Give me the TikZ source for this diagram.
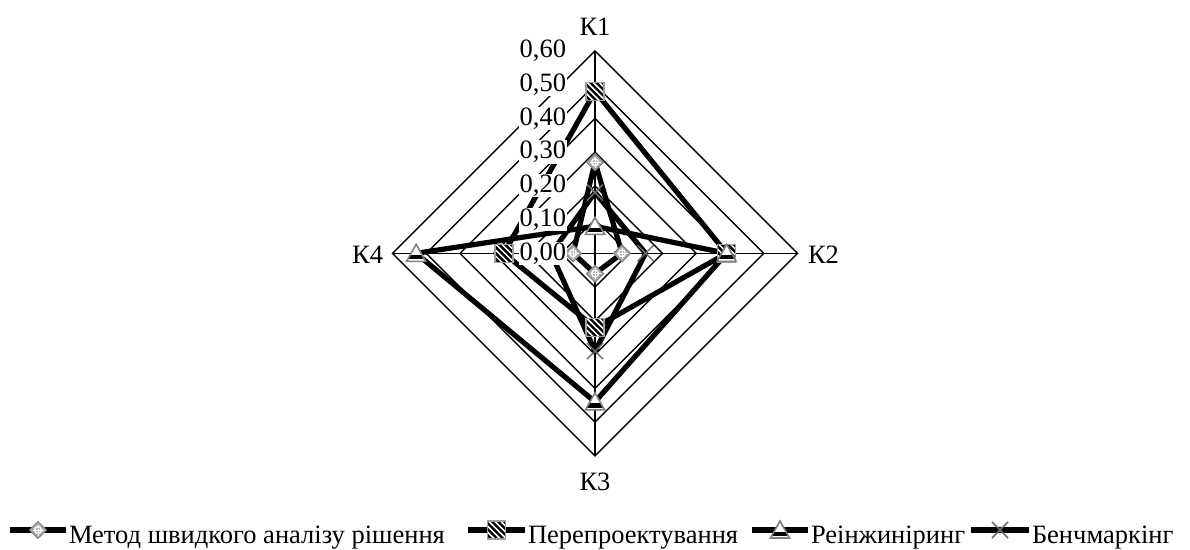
\documentclass[tikz,border=0pt]{standalone}
\usepackage{fontspec}
\setmainfont{Liberation Serif}
\begin{document}
\begin{tikzpicture}[x=1pt,y=-1pt,
  grid/.style={line width=1.4pt, black},
  ser/.style={line width=5.2pt, black, line join=round},
  lbl/.style={font=\fontsize{26.5}{28}\selectfont, inner sep=0.8pt},
  tick/.style={lbl, anchor=east, fill=white},
  pdia/.pic={
    \filldraw[draw=gray, fill=gray!65, line width=1pt] (0,-8.5)--(8.5,0)--(0,8.5)--(-8.5,0)--cycle;
    \draw[white, line width=1.3pt] (0,0) circle (3.4pt);
    \draw[white, line width=1pt] (-5.5,0)--(5.5,0) (0,-5.5)--(0,5.5);
  },
  psq/.pic={
    \begin{scope}
      \clip (-9,-9) rectangle (9,9);
      \fill[white] (-9,-9) rectangle (9,9);
      \foreach \d in {-20,-14,...,20} {\draw[black, line width=2.4pt] ({-14+\d},-14)--({14+\d},14);}
    \end{scope}
    \draw[gray!75, line width=1.6pt] (-9,-9) rectangle (9,9);
  },
  ptri/.pic={
    \fill[white] (0,-9)--(9.5,8)--(-9.5,8)--cycle;
    \begin{scope}
      \clip (0,-9)--(9.5,8)--(-9.5,8)--cycle;
      \fill[black] (-10,1.5) rectangle (10,6);
    \end{scope}
    \draw[gray, line width=1.6pt, line join=miter] (0,-9)--(9.5,8)--(-9.5,8)--cycle;
  },
  pcross/.pic={
    \draw[gray!85!black, line width=1.5pt] (-8,-8)--(8,8) (-8,8)--(8,-8);
  },
]
\useasboundingbox[fill=white] (0,0) rectangle (1190,549);

% centre and axis ends
\coordinate (C) at (595,253.3);
\coordinate (V1) at (595,50.8);
\coordinate (V2) at (797.5,253.3);
\coordinate (V3) at (595,455.8);
\coordinate (V4) at (392.5,253.3);

% grid
\foreach \k in {1,...,6} {
  \pgfmathsetmacro\rr{33.75*\k}
  \draw[grid] (595,{253.3-\rr}) -- ({595+\rr},253.3) -- (595,{253.3+\rr}) -- ({595-\rr},253.3) -- cycle;
}
\draw[grid] (C) -- (V1) (C) -- (V2) (C) -- (V3) (C) -- (V4);

% data points (K1 up, K2 right, K3 down, K4 left), 0.1 = 33.75
\def\pu#1{{253.3-337.5*#1}}
\def\pr#1{{595+337.5*#1}}
\def\pd#1{{253.3+337.5*#1}}
\def\pl#1{{595-337.5*#1}}
% series 1
\coordinate (a1) at (595,\pu{0.27});
\coordinate (a2) at (\pr{0.08},253.3);
\coordinate (a3) at (595,\pd{0.06});
\coordinate (a4) at (\pl{0.065},253.3);
% series 2
\coordinate (b1) at (595,\pu{0.48});
\coordinate (b2) at (\pr{0.39},253.3);
\coordinate (b3) at (595,\pd{0.22});
\coordinate (b4) at (\pl{0.27},253.3);
% series 3
\coordinate (c1) at (595,\pu{0.08});
\coordinate (c2) at (\pr{0.39},253.3);
\coordinate (c3) at (595,\pd{0.44});
\coordinate (c4) at (\pl{0.53},253.3);
% series 4
\coordinate (d1) at (595,\pu{0.18});
\coordinate (d2) at (\pr{0.15},253.3);
\coordinate (d3) at (595,\pd{0.29});
\coordinate (d4) at (\pl{0.13},253.3);

\draw[ser] (a1)--(a2)--(a3)--(a4)--cycle;
\draw[ser] (b1)--(b2)--(b3)--(b4)--cycle;
\draw[ser] (c1)--(c2)--(c3)--(c4)--cycle;
\draw[ser] (d1)--(d2)--(d3)--(d4)--cycle;

\foreach \p in {a1,a2,a3,a4} \pic at (\p) {pdia};
\foreach \p in {b1,b2,b3,b4} \pic at (\p) {psq};
\foreach \p in {c1,c2,c3,c4} \pic at (\p) {ptri};
\foreach \p in {d1,d2,d3,d4} \pic at (\p) {pcross};

% tick labels
\foreach \k/\t in {0/{0,00},1/{0,10},2/{0,20},3/{0,30},4/{0,40},5/{0,50},6/{0,60}} {
  \node[tick] (t\k) at (567,{253.3-33.75*\k}) {\t};
}

% axis titles
\node[lbl, anchor=base] (K1) at (595,35) {К1};
\node[lbl, anchor=west] (K2) at (807,255) {К2};
\node[lbl, anchor=base] (K3) at (595,490.7) {К3};
\node[lbl, anchor=east] (K4) at (384,255) {К4};

% legend
\coordinate (l1a) at (10,530);  \coordinate (l1b) at (66,530);  \coordinate (l1m) at (38,530);
\coordinate (l2a) at (468,530); \coordinate (l2b) at (525,530); \coordinate (l2m) at (496.5,530);
\coordinate (l3a) at (752,530); \coordinate (l3b) at (808,530); \coordinate (l3m) at (780,530);
\coordinate (l4a) at (971,530); \coordinate (l4b) at (1029,530); \coordinate (l4m) at (1000,530);
\draw[ser] (l1a)--(l1b);
\draw[ser] (l2a)--(l2b);
\draw[ser] (l3a)--(l3b);
\draw[ser] (l4a)--(l4b);
\pic at (l1m) {pdia};
\pic at (l2m) {psq};
\pic at (l3m) {ptri};
\pic at (l4m) {pcross};
\node[lbl, anchor=base west] (n1) at (68,543) {Метод швидкого аналізу рішення};
\node[lbl, anchor=base west] (n2) at (527,543) {Перепроектування};
\node[lbl, anchor=base west] (n3) at (810,543) {Реінжиніринг};
\node[lbl, anchor=base west] (n4) at (1031,543) {Бенчмаркінг};
\end{tikzpicture}
\end{document}
